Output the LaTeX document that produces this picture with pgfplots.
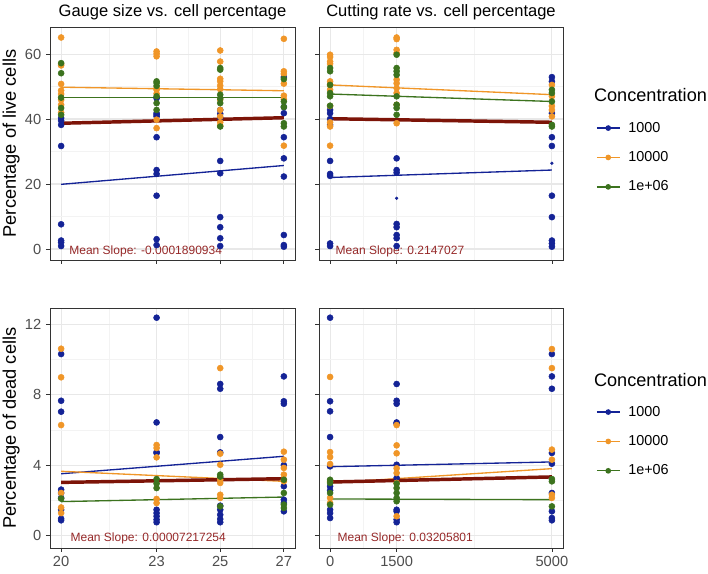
\documentclass[border=0pt]{standalone}
\usepackage{pgfplots}
\pgfplotsset{compat=1.18}
\usepackage{fontspec}
\setmainfont{Liberation Sans}
\definecolor{cBlue}{RGB}{20,35,150}
\definecolor{cOrange}{RGB}{240,150,40}
\definecolor{cGreen}{RGB}{60,115,30}
\definecolor{cRed}{RGB}{125,20,8}
\definecolor{cSlope}{RGB}{150,40,40}
\definecolor{cGrid}{RGB}{232,232,232}
\definecolor{cMinor}{RGB}{243,243,243}
\definecolor{cBorder}{RGB}{51,51,51}
\definecolor{cTick}{RGB}{77,77,77}
\tikzset{slope/.style={anchor=west, text=cSlope, font=\fontsize{9}{10}\selectfont}}
\pgfplotsset{
  panel/.style={
    scale only axis, clip=false,
    axis line style={cBorder, line width=0.55pt},
    tick style={cBorder, line width=0.55pt},
    tick align=outside,
    major tick length=3pt,
    minor tick length=0pt,
    xtick pos=left, ytick pos=left,
    grid=both,
    major grid style={cGrid, line width=0.8pt},
    minor grid style={cMinor, line width=0.45pt},
    ticklabel style={font=\fontsize{11}{12}\selectfont, text=cTick},
    /pgf/number format/assume math mode=true,
    scaled x ticks=false, scaled y ticks=false,
    title style={font=\fontsize{12.4}{14}\selectfont, at={(0.5,1)}, anchor=base, yshift=2pt},
    ylabel style={font=\fontsize{13.7}{15}\selectfont, at={(axis description cs:-0.139,0.5)}, anchor=base},
  },
  gauge/.style={xmin=19.65, xmax=27.35, xtick={20,23,25,27}, minor xtick={21.5,24,26}},
  cut/.style={xmin=-250, xmax=5250, xtick={0,1500,5000}, xticklabels={0,1500,5000}, minor xtick={750,3250}},
  live/.style={ymin=-3.39, ymax=68.33, ytick={0,20,40,60}, minor ytick={10,30,50}},
  dead/.style={ymin=-0.70, ymax=12.91, ytick={0,4,8,12}, minor ytick={2,6,10}},
  pts/.style={only marks, mark=*, color=#1, mark size=2.25pt, mark options={line width=0.4pt}, forget plot},
  fit/.style={#1, line width=1pt, no marks, forget plot},
  mfit/.style={cRed, line width=2.6pt, no marks, forget plot},
  leg/.style={legend style={at={(1.135,#1)}, anchor=west, draw=none, fill=none,
     font=\fontsize{10.8}{12}\selectfont, row sep=9pt, column sep=4pt, inner sep=0pt},
     legend cell align=left},
}
\begin{document}
\begin{tikzpicture}
\path[use as bounding box] (0,0) rectangle (531pt,430.5pt);
% ---------- top left
\begin{axis}[panel, gauge, live, at={(37.5pt,235.5pt)}, anchor=south west,
  width=183.75pt, height=174.75pt, xticklabels={},
  title={Gauge size vs. cell percentage}, ylabel={Percentage of live cells}]
\addplot[pts=cBlue] coordinates {(20,40.3)(20,39.5)(20,38.2)(20,31.7)(20,7.6)(20,2.6)(20,2.0)(20,0.9)(23,46.4)(23,41.8)(23,41.3)(23,40.8)(23,34.4)(23,24.3)(23,23.1)(23,16.4)(23,3.0)(23,1.2)(25,42.8)(25,41.6)(25,40.3)(25,27.1)(25,23.3)(25,9.8)(25,6.7)(25,3.3)(25,0.9)(27,52.9)(27,43.7)(27,41.8)(27,34.4)(27,27.9)(27,22.3)(27,4.3)(27,1.2)(27,0.7)};
\addplot[pts=cOrange] coordinates {(20,65.1)(20,56.9)(20,56.5)(20,50.8)(20,48.8)(20,47.7)(20,45.9)(20,44.4)(20,42.0)(23,60.8)(23,60.1)(23,59.3)(23,49.5)(23,49.0)(23,47.8)(23,39.8)(23,37.2)(25,61.1)(25,57.7)(25,52.4)(25,51.6)(25,50.3)(25,49.2)(25,45.9)(25,42.8)(25,40.8)(25,39.0)(25,38.0)(27,64.7)(27,54.7)(27,53.9)(27,50.9)(27,47.2)(27,46.1)(27,31.8)};
\addplot[pts=cGreen] coordinates {(20,57.2)(20,54.1)(20,46.6)(20,43.4)(20,41.3)(23,51.6)(23,51.1)(23,50.2)(23,47.0)(23,44.9)(23,42.8)(25,55.7)(25,55.2)(25,47.5)(25,46.3)(25,44.9)(25,37.7)(27,52.3)(27,45.4)(27,43.7)(27,38.7)(27,37.7)};
\addplot[fit=cBlue] coordinates {(20,19.9)(27,25.7)};
\addplot[fit=cOrange] coordinates {(20,49.8)(27,48.7)};
\addplot[fit=cGreen] coordinates {(20,46.6)(27,46.6)};
\addplot[mfit] coordinates {(20,38.7)(27,40.4)};
\node[slope] at (rel axis cs:0.06,0.035) {Mean Slope: -0.0001890934};
\end{axis}
% ---------- top right
\begin{axis}[panel, cut, live, at={(239.25pt,235.5pt)}, anchor=south west,
  width=183pt, height=174.75pt, xticklabels={}, yticklabels={},
  title={Cutting rate vs. cell percentage}, leg=0.44]
\addplot[pts=cBlue] coordinates {(0,42.8)(0,41.8)(0,40.0)(0,38.2)(0,27.1)(0,23.1)(0,22.5)(0,1.7)(0,0.9)(1500,27.9)(1500,24.3)(1500,23.5)(1500,7.7)(1500,6.7)(1500,4.3)(1500,3.3)(1500,0.9)(5000,52.9)(5000,51.6)(5000,41.8)(5000,34.4)(5000,31.7)(5000,16.4)(5000,9.8)(5000,2.6)(5000,1.7)(5000,0.7)};
\addplot[pts=cBlue, mark size=1.0pt] coordinates {(1500,15.6)(5000,26.4)};
\addplot[pts=cOrange] coordinates {(0,59.8)(0,59.1)(0,57.7)(0,57.0)(0,51.6)(0,50.5)(0,49.0)(0,44.0)(0,39.0)(0,37.7)(0,31.8)(1500,65.1)(1500,64.6)(1500,61.3)(1500,60.3)(1500,52.1)(1500,51.0)(1500,49.5)(1500,48.0)(1500,44.4)(1500,38.7)(5000,50.5)(5000,47.0)(5000,44.0)(5000,42.8)(5000,40.8)};
\addplot[pts=cGreen] coordinates {(0,55.7)(0,54.7)(0,50.5)(0,48.0)(0,47.0)(0,44.1)(1500,59.8)(1500,55.7)(1500,54.7)(1500,53.6)(1500,47.0)(1500,44.4)(1500,43.4)(1500,41.3)(5000,49.0)(5000,48.0)(5000,45.4)(5000,38.2)(5000,37.7)};
\addplot[fit=cBlue] coordinates {(0,22.0)(5000,24.3)};
\addplot[fit=cOrange] coordinates {(0,50.5)(5000,47.5)};
\addplot[fit=cGreen] coordinates {(0,47.7)(5000,45.4)};
\addplot[mfit] coordinates {(0,40.1)(5000,39.0)};
\addlegendimage{cBlue, line width=1pt, mark=*, mark size=1.6pt}
\addlegendentry{1000}
\addlegendimage{cOrange, line width=1pt, mark=*, mark size=1.6pt}
\addlegendentry{10000}
\addlegendimage{cGreen, line width=1pt, mark=*, mark size=1.6pt}
\addlegendentry{1e+06}
\node[slope] at (rel axis cs:0.049,0.035) {Mean Slope: 0.2147027};
\node[anchor=west, font=\fontsize{13.6}{15}\selectfont] at (rel axis cs:1.108,0.708) {Concentration};
\end{axis}
% ---------- bottom left
\begin{axis}[panel, gauge, dead, at={(37.5pt,19.5pt)}, anchor=south west,
  width=183.75pt, height=180pt, ylabel={Percentage of dead cells}]
\addplot[pts=cBlue] coordinates {(20,10.3)(20,7.65)(20,7.03)(20,2.61)(20,2.42)(20,2.14)(20,1.47)(20,0.96)(20,0.87)(23,12.36)(23,6.42)(23,4.74)(23,4.68)(23,1.47)(23,1.28)(23,1.10)(23,0.91)(23,0.76)(25,8.6)(25,8.33)(25,5.59)(25,4.72)(25,3.27)(25,1.70)(25,1.47)(25,1.19)(25,0.94)(25,0.76)(27,9.03)(27,7.62)(27,7.48)(27,4.0)(27,2.8)(27,2.04)(27,1.85)(27,1.38)};
\addplot[pts=cOrange] coordinates {(20,10.6)(20,8.98)(20,6.27)(20,2.42)(20,1.6)(20,1.28)(23,5.14)(23,4.97)(23,4.44)(23,2.08)(23,1.85)(25,9.5)(25,4.65)(25,4.02)(25,3.17)(25,2.99)(25,2.32)(25,2.14)(27,4.76)(27,4.31)(27,3.84)(27,3.46)(27,3.17)(27,3.08)};
\addplot[pts=cGreen] coordinates {(20,2.1)(23,3.21)(23,2.95)(23,2.70)(25,3.46)(25,3.35)(25,1.66)(27,3.17)(27,2.42)(27,1.76)(27,1.57)};
\addplot[fit=cBlue] coordinates {(20,3.51)(27,4.5)};
\addplot[fit=cOrange] coordinates {(20,3.65)(27,3.08)};
\addplot[fit=cGreen] coordinates {(20,1.93)(27,2.19)};
\addplot[mfit] coordinates {(20,3.02)(27,3.23)};
\node[slope] at (rel axis cs:0.065,0.04) {Mean Slope: 0.00007217254};
\end{axis}
% ---------- bottom right
\begin{axis}[panel, cut, dead, at={(239.25pt,19.5pt)}, anchor=south west,
  width=183pt, height=180pt, yticklabels={}, leg=0.444]
\addplot[pts=cBlue] coordinates {(0,12.36)(0,7.62)(0,7.05)(0,5.59)(0,3.93)(0,2.80)(0,2.57)(0,1.47)(0,1.28)(0,1.0)(1500,8.6)(1500,7.65)(1500,7.48)(1500,6.42)(1500,6.35)(1500,4.02)(1500,3.27)(1500,1.47)(1500,1.38)(1500,0.91)(1500,0.76)(5000,10.3)(5000,9.03)(5000,8.33)(5000,4.69)(5000,4.08)(5000,2.42)(5000,1.38)(5000,1.0)(5000,0.87)};
\addplot[pts=cOrange] coordinates {(0,9.0)(0,4.74)(0,4.46)(0,4.06)(0,3.08)(0,2.14)(0,1.85)(1500,6.27)(1500,5.12)(1500,4.67)(1500,3.82)(1500,3.55)(1500,2.99)(1500,1.10)(5000,10.58)(5000,9.5)(5000,4.88)(5000,4.31)(5000,2.32)(5000,2.14)};
\addplot[pts=cGreen] coordinates {(0,3.17)(0,2.99)(0,2.42)(0,1.76)(1500,2.95)(1500,2.70)(1500,2.42)(1500,2.14)(1500,1.95)(5000,3.21)(5000,3.08)(5000,1.66)};
\addplot[fit=cBlue] coordinates {(0,3.91)(5000,4.18)};
\addplot[fit=cOrange] coordinates {(0,2.99)(5000,3.80)};
\addplot[fit=cGreen] coordinates {(0,2.08)(5000,2.04)};
\addplot[mfit] coordinates {(0,3.04)(5000,3.33)};
\addlegendimage{cBlue, line width=1pt, mark=*, mark size=1.6pt}
\addlegendentry{1000}
\addlegendimage{cOrange, line width=1pt, mark=*, mark size=1.6pt}
\addlegendentry{10000}
\addlegendimage{cGreen, line width=1pt, mark=*, mark size=1.6pt}
\addlegendentry{1e+06}
\node[slope] at (rel axis cs:0.057,0.04) {Mean Slope: 0.03205801};
\node[anchor=west, font=\fontsize{13.6}{15}\selectfont] at (rel axis cs:1.108,0.70) {Concentration};
\end{axis}
\end{tikzpicture}
\end{document}
